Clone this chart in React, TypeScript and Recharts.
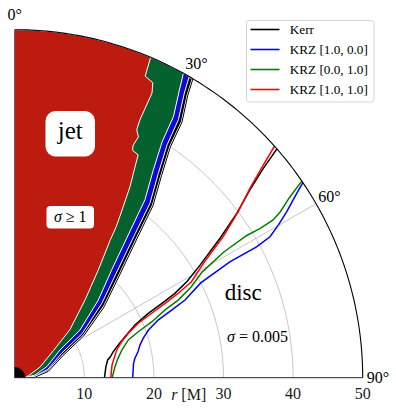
import React from 'react';
import { ComposedChart, Area, Line, XAxis, YAxis, ReferenceDot, Legend, Label } from 'recharts';

type RT = [number, number]; // [r in M, polar angle in degrees measured from the jet axis]

const R_MAX = 50;
const RADIAL_TICKS = [10, 20, 30, 40, 50];
const GRID_RADII = [10, 20, 30, 40];
const GRID_ANGLES = [30, 60];
const ANGLE_TICKS = [0, 30, 60, 90];
const HORIZON_R = 1.45;

const SERIES_NAMES = ['Kerr', 'KRZ [1.0, 0.0]', 'KRZ [0.0, 1.0]', 'KRZ [1.0, 1.0]'];
const LINE_COLORS = ['#000000', '#0000ff', '#008000', '#ff0000'];
const FILL_COLORS = ['#000000', '#0c0cd2', '#05612e', '#be1b10'];

// sigma = 1 jet boundaries
const jetKerr: RT[] = [[1.45, 90], [2.94, 88], [4.9, 79.5], [7.6, 65.5], [11.6, 58.8], [16.4, 51.6], [20.8, 45.9], [27.0, 41.1], [31.7, 38.8], [35.9, 36.0], [40.0, 34.0], [43.9, 33.2], [47.6, 31.5], [50, 30.8]];
const jetKRZ10: RT[] = [[1.45, 90], [2.94, 85.5], [4.9, 76], [7.6, 62.5], [11.6, 56.8], [16.4, 49.6], [20.8, 44.3], [27.0, 39.9], [31.7, 37.8], [35.9, 35.1], [40.0, 33.2], [43.9, 32.4], [47.6, 30.8], [50, 30.1]];
const jetKRZ01: RT[] = [[1.45, 90], [2.94, 82.4], [4.9, 71], [7.6, 58.6], [11.6, 53.9], [16.4, 47.1], [20.8, 42.0], [27.0, 38.1], [31.7, 36.2], [35.9, 33.7], [40.0, 32.0], [43.9, 31.3], [47.6, 29.8], [50, 29.0]];
const jetKRZ11: RT[] = [[1.45, 90], [2.0, 82], [4.0, 67], [6.8, 55], [10.5, 49], [15.1, 42.1], [19.6, 37.8], [24.0, 34.8], [26.2, 33.9], [29.1, 32.4], [32.1, 31.1], [34.9, 29.7], [36.6, 29.0], [36.8, 27.4], [37.5, 27.0], [38.9, 27.2], [39.7, 26.2], [41.2, 25.9], [45.4, 25.75], [46.8, 25.1], [47.2, 23.4], [50, 23.0]];

// sigma = 0.005 disc boundaries
const discKerr: RT[] = [[12.9, 90], [13.2, 83.1], [13.6, 79.2], [14.0, 77.9], [14.65, 75.2], [15.6, 72.5], [16.9, 69.6], [18.9, 66.3], [21.3, 64.3], [23.7, 63.2], [25.9, 62.3], [28.4, 60.8], [31.2, 58.7], [35.7, 55.8], [39.7, 53.5], [43.2, 51.4], [46.7, 49.9], [50, 48.9]];
const discKRZ10: RT[] = [[16.95, 90], [17.2, 83.1], [17.5, 80.8], [18.1, 78.1], [18.6, 75.4], [19.3, 73.0], [20.4, 70.4], [22.2, 68.1], [24.6, 66.7], [26.9, 65.5], [30.0, 63.0], [35.1, 61.7], [39.5, 61.6], [41.9, 61.1], [43.8, 59.9], [45.8, 58.6], [47.9, 57.15], [50, 55.9]];
const discKRZ01: RT[] = [[14.0, 90], [14.5, 83.7], [15.1, 79.4], [15.9, 75.5], [17.2, 71.6], [18.95, 69.6], [21.3, 67.8], [23.7, 65.75], [26.0, 64.6], [28.5, 62.8], [30.9, 60.6], [35.0, 59.0], [39.1, 58.5], [41.3, 58.7], [43.5, 58.6], [45.0, 58.0], [47.3, 56.7], [50, 55.6]];
const discKRZ11: RT[] = [[13.8, 90], [14.1, 82.6], [14.8, 77.2], [15.2, 74.8], [16.2, 71.4], [17.5, 68.7], [19.4, 66.2], [21.75, 64.8], [24.1, 63.7], [26.45, 62.7], [28.9, 61.5], [31.7, 58.8], [36.2, 55.9], [40.0, 53.4], [43.5, 51.1], [47.0, 49.45], [50, 48.3]];

const JETS = [jetKerr, jetKRZ10, jetKRZ01, jetKRZ11];
const DISCS = [discKerr, discKRZ10, discKRZ01, discKRZ11];

// ---- layout / style (not data) ----
const W = 396;
const H = 415;
const MARGIN = { top: 29.7, right: 33.3, bottom: 7.3, left: 14.7 };
const XAXIS_H = 30;
const FONT = '"Liberation Serif", "DejaVu Serif", serif';
const TEXT = '#1a1a1a';
const LABEL_R = 52.2;
const ANNOT = {
  jet: { x: 7.98, y: 35.05, w: 49.5, h: 45.5, rx: 10 },
  sigmaJet: { x: 7.98, y: 23.05, w: 47.5, h: 22.5, rx: 4 },
  disc: { x: 32.84, y: 12.1 },
  sigmaDisc: { x: 34.89, y: 5.89 },
};

const rad = (d: number) => (d * Math.PI) / 180;
const toXY = (pts: RT[]) => pts.map(([r, t]) => ({ x: r * Math.sin(rad(t)), y: r * Math.cos(rad(t)) }));
const arc = (r: number, from: number, to: number) => {
  const out: RT[] = [];
  const step = from > to ? -1 : 1;
  for (let a = from; step < 0 ? a >= to : a <= to; a += step) out.push([r, a]);
  return out;
};
const jetRegion = (pts: RT[]) => {
  const top = pts[pts.length - 1][1];
  return toXY([...pts, ...arc(R_MAX, Math.ceil(top) - 1, 0)]);
};

const gridArcs = GRID_RADII.map((r) => toXY(arc(r, 90, 0)));
const gridSpokes = GRID_ANGLES.map((a) => toXY([[0, a], [R_MAX, a]]));
const rim = toXY(arc(R_MAX, 90, 0));
const horizon = toXY(arc(HORIZON_R, 90, 0));

const renderLegend = (props: any) => {
  const items = (props.payload || [])
    .filter((p: any) => SERIES_NAMES.includes(p.value))
    .sort((a: any, b: any) => SERIES_NAMES.indexOf(a.value) - SERIES_NAMES.indexOf(b.value));
  return (
    <svg width={129} height={83} style={{ position: 'absolute', left: 0, top: 0, overflow: 'visible' }}>
      <rect x={0.5} y={0.5} width={127.5} height={81.5} rx={3} fill="rgba(255,255,255,0.85)" stroke="#d6d6d6" />
      {items.map((it: any, i: number) => (
        <g key={it.value}>
          <line x1={4.5} x2={33.5} y1={9.5 + 20 * i} y2={9.5 + 20 * i} stroke={it.color} strokeWidth={1.6} />
          <text x={43.8} y={9.5 + 20 * i + 4.5} fontFamily={FONT} fontSize={13.2} fill="#000">{it.value}</text>
        </g>
      ))}
    </svg>
  );
};

const boxText = (cfg: { w: number; h: number; rx: number }, content: React.ReactNode, fs: number, dy: number) => (p: any) => (
  <g>
    <rect x={p.cx - cfg.w / 2} y={p.cy - cfg.h / 2} width={cfg.w} height={cfg.h} rx={cfg.rx} fill="#fff" />
    <text x={p.cx} y={p.cy + dy} textAnchor="middle" fontFamily={FONT} fontSize={fs} fill="#000">{content}</text>
  </g>
);

const plainText = (content: React.ReactNode, fs: number, dy: number) => (p: any) => (
  <text x={p.cx} y={p.cy + dy} textAnchor="middle" fontFamily={FONT} fontSize={fs} fill="#000">{content}</text>
);

export default function App() {
  return (
    <div style={{ position: 'fixed', left: 0, top: 0, width: W, height: H, background: '#fff' }}>
      <ComposedChart width={W} height={H} layout="vertical" margin={MARGIN}>
        <XAxis
          type="number"
          dataKey="x"
          domain={[0, R_MAX]}
          ticks={RADIAL_TICKS}
          interval={0}
          height={XAXIS_H}
          tickLine={false}
          tickSize={0}
          tickMargin={10}
          axisLine={{ stroke: '#262626', strokeWidth: 1 }}
          tick={{ fontFamily: FONT, fontSize: 16, fill: TEXT }}
        >
          <Label
            content={(p: any) => (
              <text x={p.viewBox.x + p.viewBox.width / 2} y={p.viewBox.y + 22.5} textAnchor="middle" fontFamily={FONT} fontSize={16} fill={TEXT}>
                <tspan fontStyle="italic">r</tspan> [M]
              </text>
            )}
          />
        </XAxis>
        <YAxis type="number" dataKey="y" domain={[0, R_MAX]} reversed width={0} tick={false} tickLine={false} axisLine={{ stroke: '#262626', strokeWidth: 1 }} />

        {gridArcs.map((d, i) => (
          <Area key={'ga' + i} data={d} dataKey="x" type="linear" fill="none" stroke="#b8b8b8" strokeWidth={0.8} isAnimationActive={false} legendType="none" activeDot={false} />
        ))}
        {gridSpokes.map((d, i) => (
          <Area key={'gs' + i} data={d} dataKey="x" type="linear" fill="none" stroke="#b8b8b8" strokeWidth={0.8} isAnimationActive={false} legendType="none" activeDot={false} />
        ))}

        <Area data={jetRegion(jetKerr)} dataKey="x" type="linear" fill={FILL_COLORS[0]} fillOpacity={1} stroke="#fff" strokeWidth={2.4} isAnimationActive={false} legendType="none" activeDot={false} />
        <Area data={jetRegion(jetKerr)} dataKey="x" type="linear" fill="none" stroke="#000" strokeWidth={1} isAnimationActive={false} legendType="none" activeDot={false} />
        {JETS.slice(1).map((pts, i) => (
          <Area
            key={'jet' + i}
            data={jetRegion(pts)}
            dataKey="x"
            type="linear"
            fill={FILL_COLORS[i + 1]}
            fillOpacity={1}
            stroke="#fff"
            strokeWidth={1}
            isAnimationActive={false}
            legendType="none"
            activeDot={false}
          />
        ))}
        <Area data={horizon} dataKey="x" type="linear" fill="#000" fillOpacity={1} stroke="#000" strokeWidth={1} isAnimationActive={false} legendType="none" activeDot={false} />

        {DISCS.map((pts, i) => (
          <Line
            key={'disc' + i}
            data={toXY(pts)}
            dataKey="x"
            name={SERIES_NAMES[i]}
            type="linear"
            stroke={LINE_COLORS[i]}
            strokeWidth={1.5}
            dot={false}
            activeDot={false}
            isAnimationActive={false}
          />
        ))}
        <Line data={rim} dataKey="x" type="linear" stroke="#000" strokeWidth={1.1} dot={false} activeDot={false} isAnimationActive={false} legendType="none" />

        {ANGLE_TICKS.map((a) => (
          <ReferenceDot
            key={'al' + a}
            x={LABEL_R * Math.sin(rad(a))}
            y={LABEL_R * Math.cos(rad(a))}
            ifOverflow="visible"
            shape={plainText(`${a}°`, 16, 5.5)}
          />
        ))}
        <ReferenceDot x={ANNOT.jet.x} y={ANNOT.jet.y} ifOverflow="visible" shape={boxText(ANNOT.jet, 'jet', 25, 5)} />
        <ReferenceDot
          x={ANNOT.sigmaJet.x}
          y={ANNOT.sigmaJet.y}
          ifOverflow="visible"
          shape={boxText(ANNOT.sigmaJet, <><tspan fontStyle="italic">σ</tspan> ≥ 1</>, 16, 5)}
        />
        <ReferenceDot x={ANNOT.disc.x} y={ANNOT.disc.y} ifOverflow="visible" shape={plainText('disc', 23, 7)} />
        <ReferenceDot
          x={ANNOT.sigmaDisc.x}
          y={ANNOT.sigmaDisc.y}
          ifOverflow="visible"
          shape={plainText(<><tspan fontStyle="italic">σ</tspan> = 0.005</>, 16, 5)}
        />

        <Legend
          layout="vertical"
          align="right"
          verticalAlign="top"
          content={renderLegend}
          wrapperStyle={{ position: 'absolute', left: 245.7, top: 20, width: 0, height: 0, overflow: 'visible' }}
        />
      </ComposedChart>
    </div>
  );
}
